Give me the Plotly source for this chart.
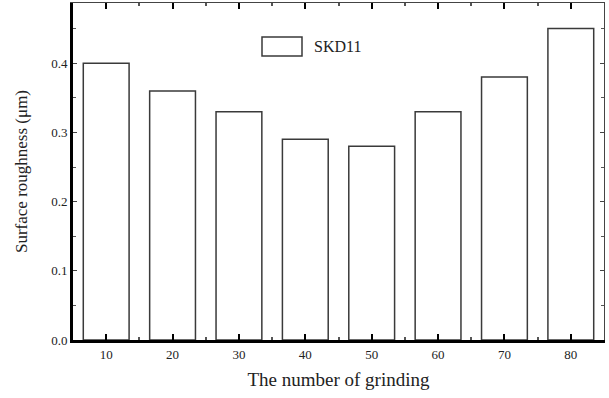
import plotly.graph_objects as go

# Grinding passes and measured surface roughness
grinding_counts = [10, 20, 30, 40, 50, 60, 70, 80]
roughness_skd11 = [0.40, 0.36, 0.33, 0.29, 0.28, 0.33, 0.38, 0.45]
y_tick_values = [0.0, 0.1, 0.2, 0.3, 0.4]
y_tick_labels = ["0.0", "0.1", "0.2", "0.3", "0.4"]

FONT = "Liberation Serif"

fig = go.Figure()
fig.add_trace(go.Bar(
    x=grinding_counts,
    y=roughness_skd11,
    width=6.9,
    marker=dict(color="white", line=dict(color="#3a3a3a", width=1.5)),
    name="SKD11",
    showlegend=False,
))

# invisible trace carrying the mirrored top/right tick marks
fig.add_trace(go.Scatter(x=grinding_counts, y=roughness_skd11, xaxis="x2", yaxis="y2",
                         mode="markers", marker=dict(opacity=0), showlegend=False,
                         hoverinfo="skip"))

fig.update_layout(
    width=609, height=398,
    margin=dict(l=73, r=5, t=3, b=58),
    paper_bgcolor="white", plot_bgcolor="white",
    font=dict(family=FONT, size=12, color="#222"),
    xaxis=dict(
        range=[5, 85], tickvals=grinding_counts, ticktext=[str(v) for v in grinding_counts],
        ticks="inside", ticklen=6, tickwidth=1.5, tickcolor="black",
        minor=dict(dtick=5, tick0=5, ticks="inside", ticklen=3, tickcolor="#555"),
        showline=True, linewidth=3, linecolor="black", showgrid=False, zeroline=False,
        title=dict(text="The number of grinding", font=dict(family=FONT, size=19), standoff=13),
        tickfont=dict(family=FONT, size=13),
    ),
    yaxis=dict(
        range=[0, 0.487], tickvals=y_tick_values, ticktext=y_tick_labels,
        ticks="inside", ticklen=4, tickwidth=1, tickcolor="#444",
        minor=dict(dtick=0.05, tick0=0, ticks="inside", ticklen=3, tickcolor="#555"),
        showline=True, linewidth=3, linecolor="black", showgrid=False, zeroline=False,
        title=dict(text="Surface roughness (μm)", font=dict(family=FONT, size=17), standoff=20),
        tickfont=dict(family=FONT, size=13),
    ),
    xaxis2=dict(
        overlaying="x", side="top", matches="x", tickvals=grinding_counts, showticklabels=False,
        ticks="inside", ticklen=6, tickwidth=1.5, tickcolor="black",
        minor=dict(dtick=5, tick0=5, ticks="inside", ticklen=3, tickcolor="#555"),
        showline=True, linewidth=1, linecolor="#444", showgrid=False, zeroline=False,
    ),
    yaxis2=dict(
        overlaying="y", side="right", matches="y", tickvals=y_tick_values, showticklabels=False,
        ticks="inside", ticklen=4, tickwidth=1, tickcolor="#444",
        minor=dict(dtick=0.05, tick0=0, ticks="inside", ticklen=3, tickcolor="#555"),
        showline=True, linewidth=1, linecolor="#444", showgrid=False, zeroline=False,
    ),
    bargap=0.31,
)

# legend key: outlined box with series name
fig.add_shape(type="rect", xref="paper", yref="paper",
              x0=(262 - 73) / 531, x1=(302 - 73) / 531,
              y0=(340 - 56) / 337, y1=(340 - 37) / 337,
              fillcolor="white", line=dict(color="#3a3a3a", width=1.5))
fig.add_annotation(xref="paper", yref="paper",
                   x=(312 - 73) / 531, y=(340 - 46.5) / 337,
                   xanchor="left", yanchor="middle", showarrow=False,
                   text="SKD11", font=dict(family=FONT, size=16, color="#222"))

fig.write_html("out.html")
